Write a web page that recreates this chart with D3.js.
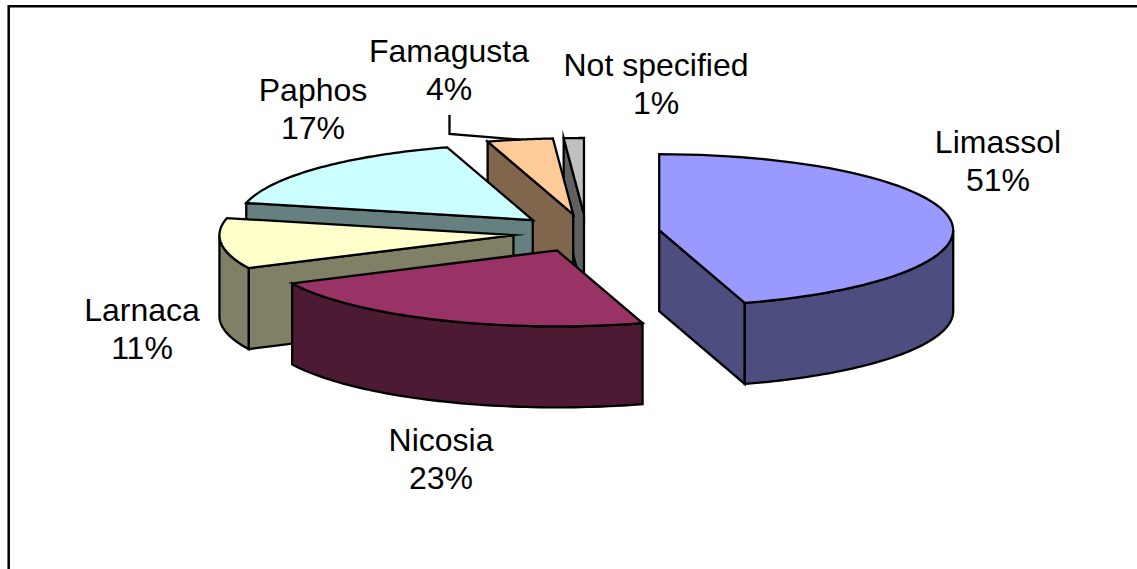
<!DOCTYPE html>
<html><head><meta charset="utf-8">
<script src="https://cdnjs.cloudflare.com/ajax/libs/d3/7.8.5/d3.min.js"></script>
<style>html,body{margin:0;padding:0;background:#fff;overflow:hidden}svg{display:block}text{font-family:"Liberation Sans",Arial,sans-serif;font-size:32px;fill:#000}</style>
</head><body><svg id="c" width="1137" height="569"></svg>
<script>
const categories = ["Limassol","Nicosia","Larnaca","Paphos","Famagusta","Not specified"];
// Printed labels. They add up to 107, so the drawn slice sizes are read separately below.
const percentLabels = [51,23,11,17,4,1];
const sliceShares = [45.3,22.55,10.75,16.7,3.6,1.1];
const topColors = ["#9999FF","#993366","#FFFFCC","#CCFFFF","#FFCC99","#C0C0C0"];
const labelLayout = [[998,153],[441,451],[142,321],[313,101],[449,62],[656,76]];

const svg = d3.select("#c");
const W=1137,H=569;
const cx=586.5, cy=233, rx=294, ry=76, depth=81, explode=0.25;
const lineH=38;
const sw=2.3;

svg.append("path").attr("d",`M8.7 ${H} V6.2 H${W}`).attr("fill","none").attr("stroke","#000").attr("stroke-width",2.5);

const pie=d3.pie().sort(null).value(d=>d.share);
const arcs=pie(categories.map((c,i)=>({c,i,share:sliceShares[i]})));
const xS=d3.scaleLinear().domain([-1,1]).range([-rx,rx]);
const yS=d3.scaleLinear().domain([-1,1]).range([-ry,ry]);
const unit=a=>[Math.sin(a),-Math.cos(a)];
const line=d3.line();
const half=c=>{const r=d3.rgb(c);return d3.rgb(r.r/2,r.g/2,r.b/2).formatHex();};

function geometry(d){
  const mid=(d.startAngle+d.endAngle)/2,[mx,my]=unit(mid);
  const ox=cx+xS(mx*explode), oy=cy+yS(my*explode);
  const pt=(a,z=0)=>{const[u,v]=unit(a);return [ox+xS(u),oy+yS(v)+z];};
  const arcPts=(a0,a1,z=0)=>d3.range(0,61).map(k=>pt(a0+(a1-a0)*k/60,z));
  return {ox,oy,pt,arcPts};
}
const draw=(g,pts,fill)=>g.append("path").attr("d",line(pts)+"Z").attr("fill",fill)
  .attr("stroke","#000").attr("stroke-width",sw).attr("stroke-linejoin","miter").attr("stroke-miterlimit",12);

const order=arcs.slice().reverse();
order.forEach(d=>{
  const g=svg.append("g"),{ox,oy,pt,arcPts}=geometry(d);
  const top=topColors[d.data.i], side=half(top);
  const a0=d.startAngle,a1=d.endAngle;
  // a flat radial wall is visible only when it faces the viewer
  if(Math.cos(a0-Math.PI/2)<-1e-6){
    const p=pt(a0);
    draw(g,[[ox,oy],p,[p[0],p[1]+depth],[ox,oy+depth]],side);
  }
  if(Math.cos(a1+Math.PI/2)<-1e-6){
    const p=pt(a1);
    draw(g,[[ox,oy],p,[p[0],p[1]+depth],[ox,oy+depth]],side);
  }
  const s=Math.max(a0,Math.PI/2),e=Math.min(a1,Math.PI*1.5);
  if(e>s){
    draw(g,[...arcPts(s,e),...arcPts(e,s,depth)],side);
  }
  draw(g,[[ox,oy],...arcPts(a0,a1)],top);
});

// Leader from the Famagusta label to the middle of its arc
const fam=arcs[4],famG=geometry(fam);
const famEnd=famG.pt((fam.startAngle+fam.endAngle)/2);
svg.append("path").attr("d",line([[449.5,115],[449.5,134],famEnd])).attr("fill","none").attr("stroke","#000").attr("stroke-width",sw);

const lab=svg.append("g");
categories.forEach((c,i)=>{
  const [x,y]=labelLayout[i];
  lab.append("text").attr("x",x).attr("y",y).attr("text-anchor","middle").text(c);
  lab.append("text").attr("x",x).attr("y",y+lineH).attr("text-anchor","middle").text(percentLabels[i]+"%");
});
</script></body></html>
